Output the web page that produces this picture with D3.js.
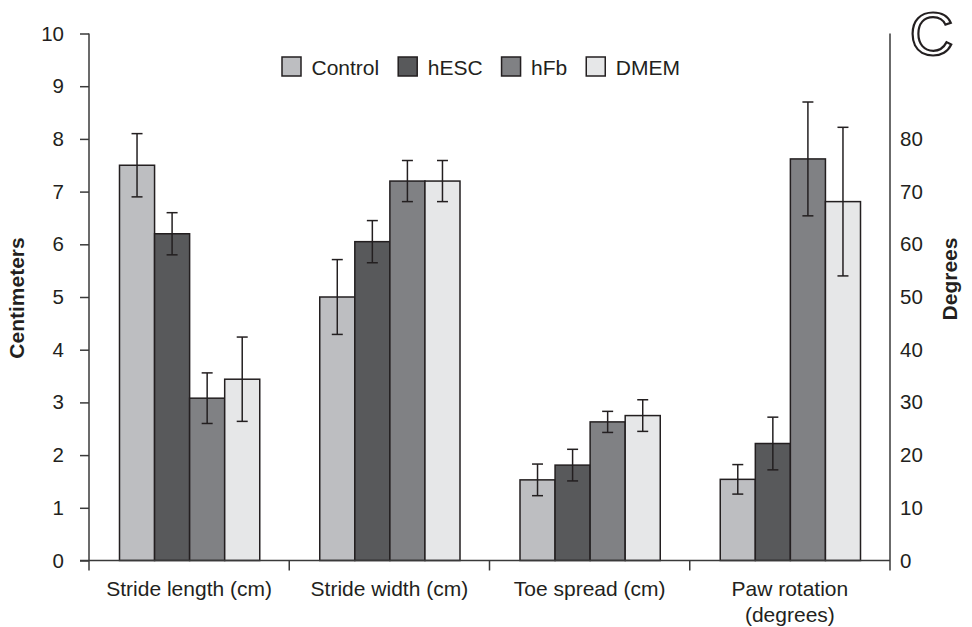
<!DOCTYPE html>
<html>
<head>
<meta charset="utf-8">
<script src="https://cdn.jsdelivr.net/npm/d3@7"></script>
<style>
  html, body { margin: 0; padding: 0; background: #fff; }
  svg { display: block; font-family: "Liberation Sans", Arial, Helvetica, sans-serif; }
</style>
</head>
<body>
<svg id="chart" width="972" height="627"></svg>
<script>
// ---- Data ----
const categories = ["Stride length (cm)", "Stride width (cm)", "Toe spread (cm)", "Paw rotation (degrees)"];
const categoryLabels = [["Stride length (cm)"], ["Stride width (cm)"], ["Toe spread (cm)"], ["Paw rotation", "(degrees)"]];
const categoryAxis = ["cm", "cm", "cm", "deg"];
const seriesNames = ["Control", "hESC", "hFb", "DMEM"];
const controlMeans = [7.5, 5.0, 1.53, 15.4];
const controlErr   = [0.6, 0.71, 0.3, 2.8];
const hescMeans    = [6.2, 6.05, 1.81, 22.2];
const hescErr      = [0.4, 0.4, 0.3, 5.0];
const hfbMeans     = [3.08, 7.2, 2.63, 76.2];
const hfbErr       = [0.48, 0.39, 0.2, 10.8];
const dmemMeans    = [3.44, 7.2, 2.75, 68.1];
const dmemErr      = [0.8, 0.39, 0.3, 14.1];
const leftTicks  = [0, 1, 2, 3, 4, 5, 6, 7, 8, 9, 10];
const rightTicks = [0, 10, 20, 30, 40, 50, 60, 70, 80];
const leftTitle = "Centimeters";
const rightTitle = "Degrees";
const panelLabel = "C";

const seriesMeans = [controlMeans, hescMeans, hfbMeans, dmemMeans];
const seriesErr = [controlErr, hescErr, hfbErr, dmemErr];
const colors = ["#bdbec1", "#58595b", "#808184", "#e6e7e8"];
const ink = "#231f20";
const axisColor = "#3a3a3a";

// ---- Layout ----
const svg = d3.select("#chart");
const x0 = 89, x1e = 890, yTop = 33.5, yBase = 560.5;

const y = d3.scaleLinear().domain([0, 10]).range([yBase, yTop]);
const yDeg = d3.scaleLinear().domain([0, 100]).range([yBase, yTop]);
const x = d3.scaleBand().domain(categories).range([x0, x1e]).padding(0);
const xs = d3.scaleBand().domain(seriesNames).range([30.5, x.bandwidth() - 29.5]).padding(0);

// Bars
const data = [];
categories.forEach((c, ci) => {
  seriesNames.forEach((s, si) => {
    data.push({ c, ci, s, si, v: seriesMeans[si][ci], e: seriesErr[si][ci] });
  });
});
const yFor = d => categoryAxis[d.ci] === "deg" ? yDeg : y;

svg.append("g").selectAll("rect").data(data).join("rect")
  .attr("x", d => x(d.c) + xs(d.s))
  .attr("y", d => yFor(d)(d.v))
  .attr("width", xs.bandwidth())
  .attr("height", d => yBase - yFor(d)(d.v))
  .attr("fill", d => colors[d.si])
  .attr("stroke", ink)
  .attr("stroke-width", 1.5);

// Error bars
const eb = svg.append("g").attr("stroke", ink).attr("stroke-width", 1.5);
const cap = 5.5;
data.forEach(d => {
  const cx = x(d.c) + xs(d.s) + xs.bandwidth() / 2;
  const sc = yFor(d);
  const yt = sc(d.v + d.e), yb = sc(d.v - d.e);
  eb.append("line").attr("x1", cx).attr("x2", cx).attr("y1", yt).attr("y2", yb);
  eb.append("line").attr("x1", cx - cap).attr("x2", cx + cap).attr("y1", yt).attr("y2", yt);
  eb.append("line").attr("x1", cx - cap).attr("x2", cx + cap).attr("y1", yb).attr("y2", yb);
});

// Left axis
const gL = svg.append("g").attr("transform", `translate(${x0},0)`)
  .call(d3.axisLeft(y).tickValues(leftTicks).tickFormat(d3.format("d")).tickSizeInner(9).tickSizeOuter(0).tickPadding(16));
gL.select(".domain").remove();
gL.selectAll(".tick line").attr("stroke", axisColor).attr("stroke-width", 1.5);
gL.selectAll(".tick text").attr("font-size", 20.5).attr("fill", ink).attr("font-family", "Liberation Sans, Arial, sans-serif");

// Right axis
const gR = svg.append("g").attr("transform", `translate(${x1e},0)`)
  .call(d3.axisRight(yDeg).tickValues(rightTicks).tickFormat(d3.format("d")).tickSizeInner(0).tickSizeOuter(0).tickPadding(10));
gR.select(".domain").remove();
gR.selectAll(".tick text").attr("font-size", 20.5).attr("fill", ink).attr("font-family", "Liberation Sans, Arial, sans-serif");

// Axis lines
const lines = svg.append("g").attr("stroke", axisColor).attr("stroke-width", 1.5).attr("fill", "none");
lines.append("line").attr("x1", x0).attr("x2", x0).attr("y1", yTop).attr("y2", yBase + 10);
lines.append("line").attr("x1", x1e).attr("x2", x1e).attr("y1", yTop).attr("y2", yBase + 10);
lines.append("line").attr("x1", x0 - 9).attr("x2", x1e).attr("y1", yBase).attr("y2", yBase);
categories.slice(1).forEach(c => {
  lines.append("line").attr("x1", x(c)).attr("x2", x(c)).attr("y1", yBase).attr("y2", yBase + 10);
});

// Category labels
categories.forEach((c, ci) => {
  const t = svg.append("text")
    .attr("x", x(c) + x.bandwidth() / 2)
    .attr("y", 596)
    .attr("text-anchor", "middle")
    .attr("font-size", 21)
    .attr("fill", ink);
  categoryLabels[ci].forEach((line, li) => {
    t.append("tspan").attr("x", x(c) + x.bandwidth() / 2).attr("dy", li === 0 ? 0 : 26).text(line);
  });
});

// Axis titles
svg.append("text")
  .attr("transform", `translate(24,298) rotate(-90)`)
  .attr("text-anchor", "middle")
  .attr("font-size", 21).attr("font-weight", "bold").attr("fill", ink)
  .text(leftTitle);
svg.append("text")
  .attr("transform", `translate(957,279) rotate(-90)`)
  .attr("text-anchor", "middle")
  .attr("font-size", 21).attr("font-weight", "bold").attr("fill", ink)
  .text(rightTitle);

// Legend
const lg = svg.append("g");
let lx = 282;
seriesNames.forEach((s, si) => {
  lg.append("rect").attr("x", lx).attr("y", 57).attr("width", 19).attr("height", 19)
    .attr("fill", colors[si]).attr("stroke", ink).attr("stroke-width", 1.5);
  const t = lg.append("text").attr("x", lx + 29.5).attr("y", 75).attr("font-size", 21).attr("fill", ink).text(s);
  lx = lx + 29.5 + t.node().getComputedTextLength() + 19;
});

// Panel label
svg.append("text")
  .attr("x", 931.5).attr("y", 55)
  .attr("text-anchor", "middle")
  .attr("font-size", 61)
  .attr("fill", "#fff").attr("stroke", ink).attr("stroke-width", 2.2)
  .text(panelLabel);
</script>
</body>
</html>
